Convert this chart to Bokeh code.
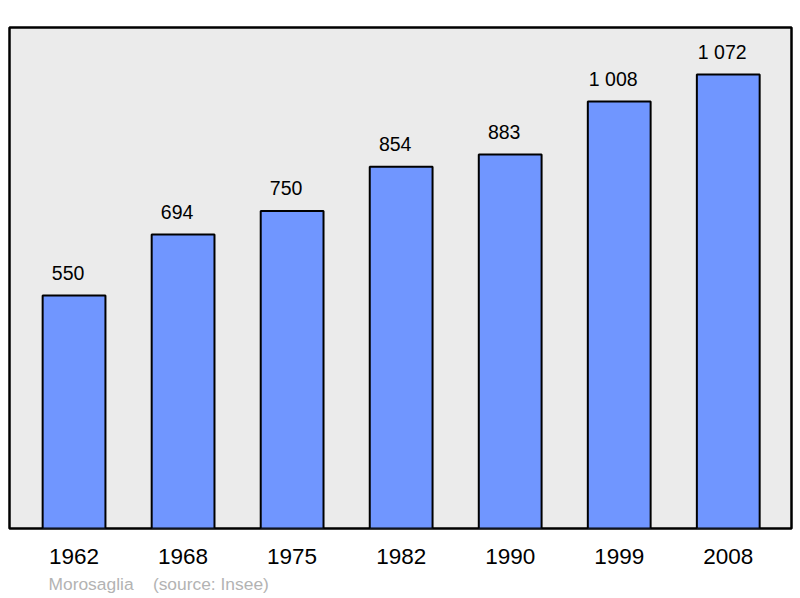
from bokeh.plotting import figure
from bokeh.models import ColumnDataSource, Range1d, FixedTicker, Title
from bokeh.core.properties import value
from bokeh.embed import file_html
from bokeh.resources import INLINE

years = ["1962", "1968", "1975", "1982", "1990", "1999", "2008"]
population = [550, 694, 750, 854, 883, 1008, 1072]
pop_labels = ["550", "694", "750", "854", "883", "1 008", "1 072"]
commune = "Morosaglia"
source_text = "(source: Insee)"

xs = list(range(len(years)))
src = ColumnDataSource(dict(x=xs, top=population, lbl=pop_labels))

p = figure(width=800, height=598, output_backend="svg", toolbar_location=None,
           x_range=Range1d(-0.592, 6.58), y_range=Range1d(0, 1183),
           min_border_left=9, min_border_right=9, min_border_top=27, min_border_bottom=70)
p.background_fill_color = "#ebebeb"
p.border_fill_color = "white"
p.outline_line_color = "black"
p.outline_line_width = 2.5
p.grid.visible = False
p.yaxis.visible = False

p.vbar(x="x", top="top", width=0.576, bottom=0, source=src,
       fill_color="#7096ff", line_color="black", line_width=2)
p.text(x="x", y="top", text="lbl", source=src, y_offset=-23, x_offset=-6,
       text_align="center", text_baseline="middle",
       text_font=value("Liberation Sans"), text_font_size="19.5px", text_color="black")

xa = p.xaxis[0]
xa.ticker = FixedTicker(ticks=xs)
xa.major_label_overrides = {i: y for i, y in zip(xs, years)}
xa.axis_line_color = None
xa.major_tick_line_color = None
xa.minor_tick_line_color = None
xa.major_tick_out = 0
xa.major_tick_in = 0
xa.major_label_standoff = 20
xa.major_label_text_font = "Liberation Sans"
xa.major_label_text_font_size = "22.5px"
xa.major_label_text_color = "black"

p.add_layout(Title(text=commune + "\u00a0\u00a0\u00a0\u00a0" + source_text, align="left", offset=39,
                   text_font="Liberation Sans", text_font_size="17.4px",
                   text_font_style="normal", text_color="#b3b3b3", standoff=10), "below")

open("out.html", "w").write(file_html(p, INLINE))
